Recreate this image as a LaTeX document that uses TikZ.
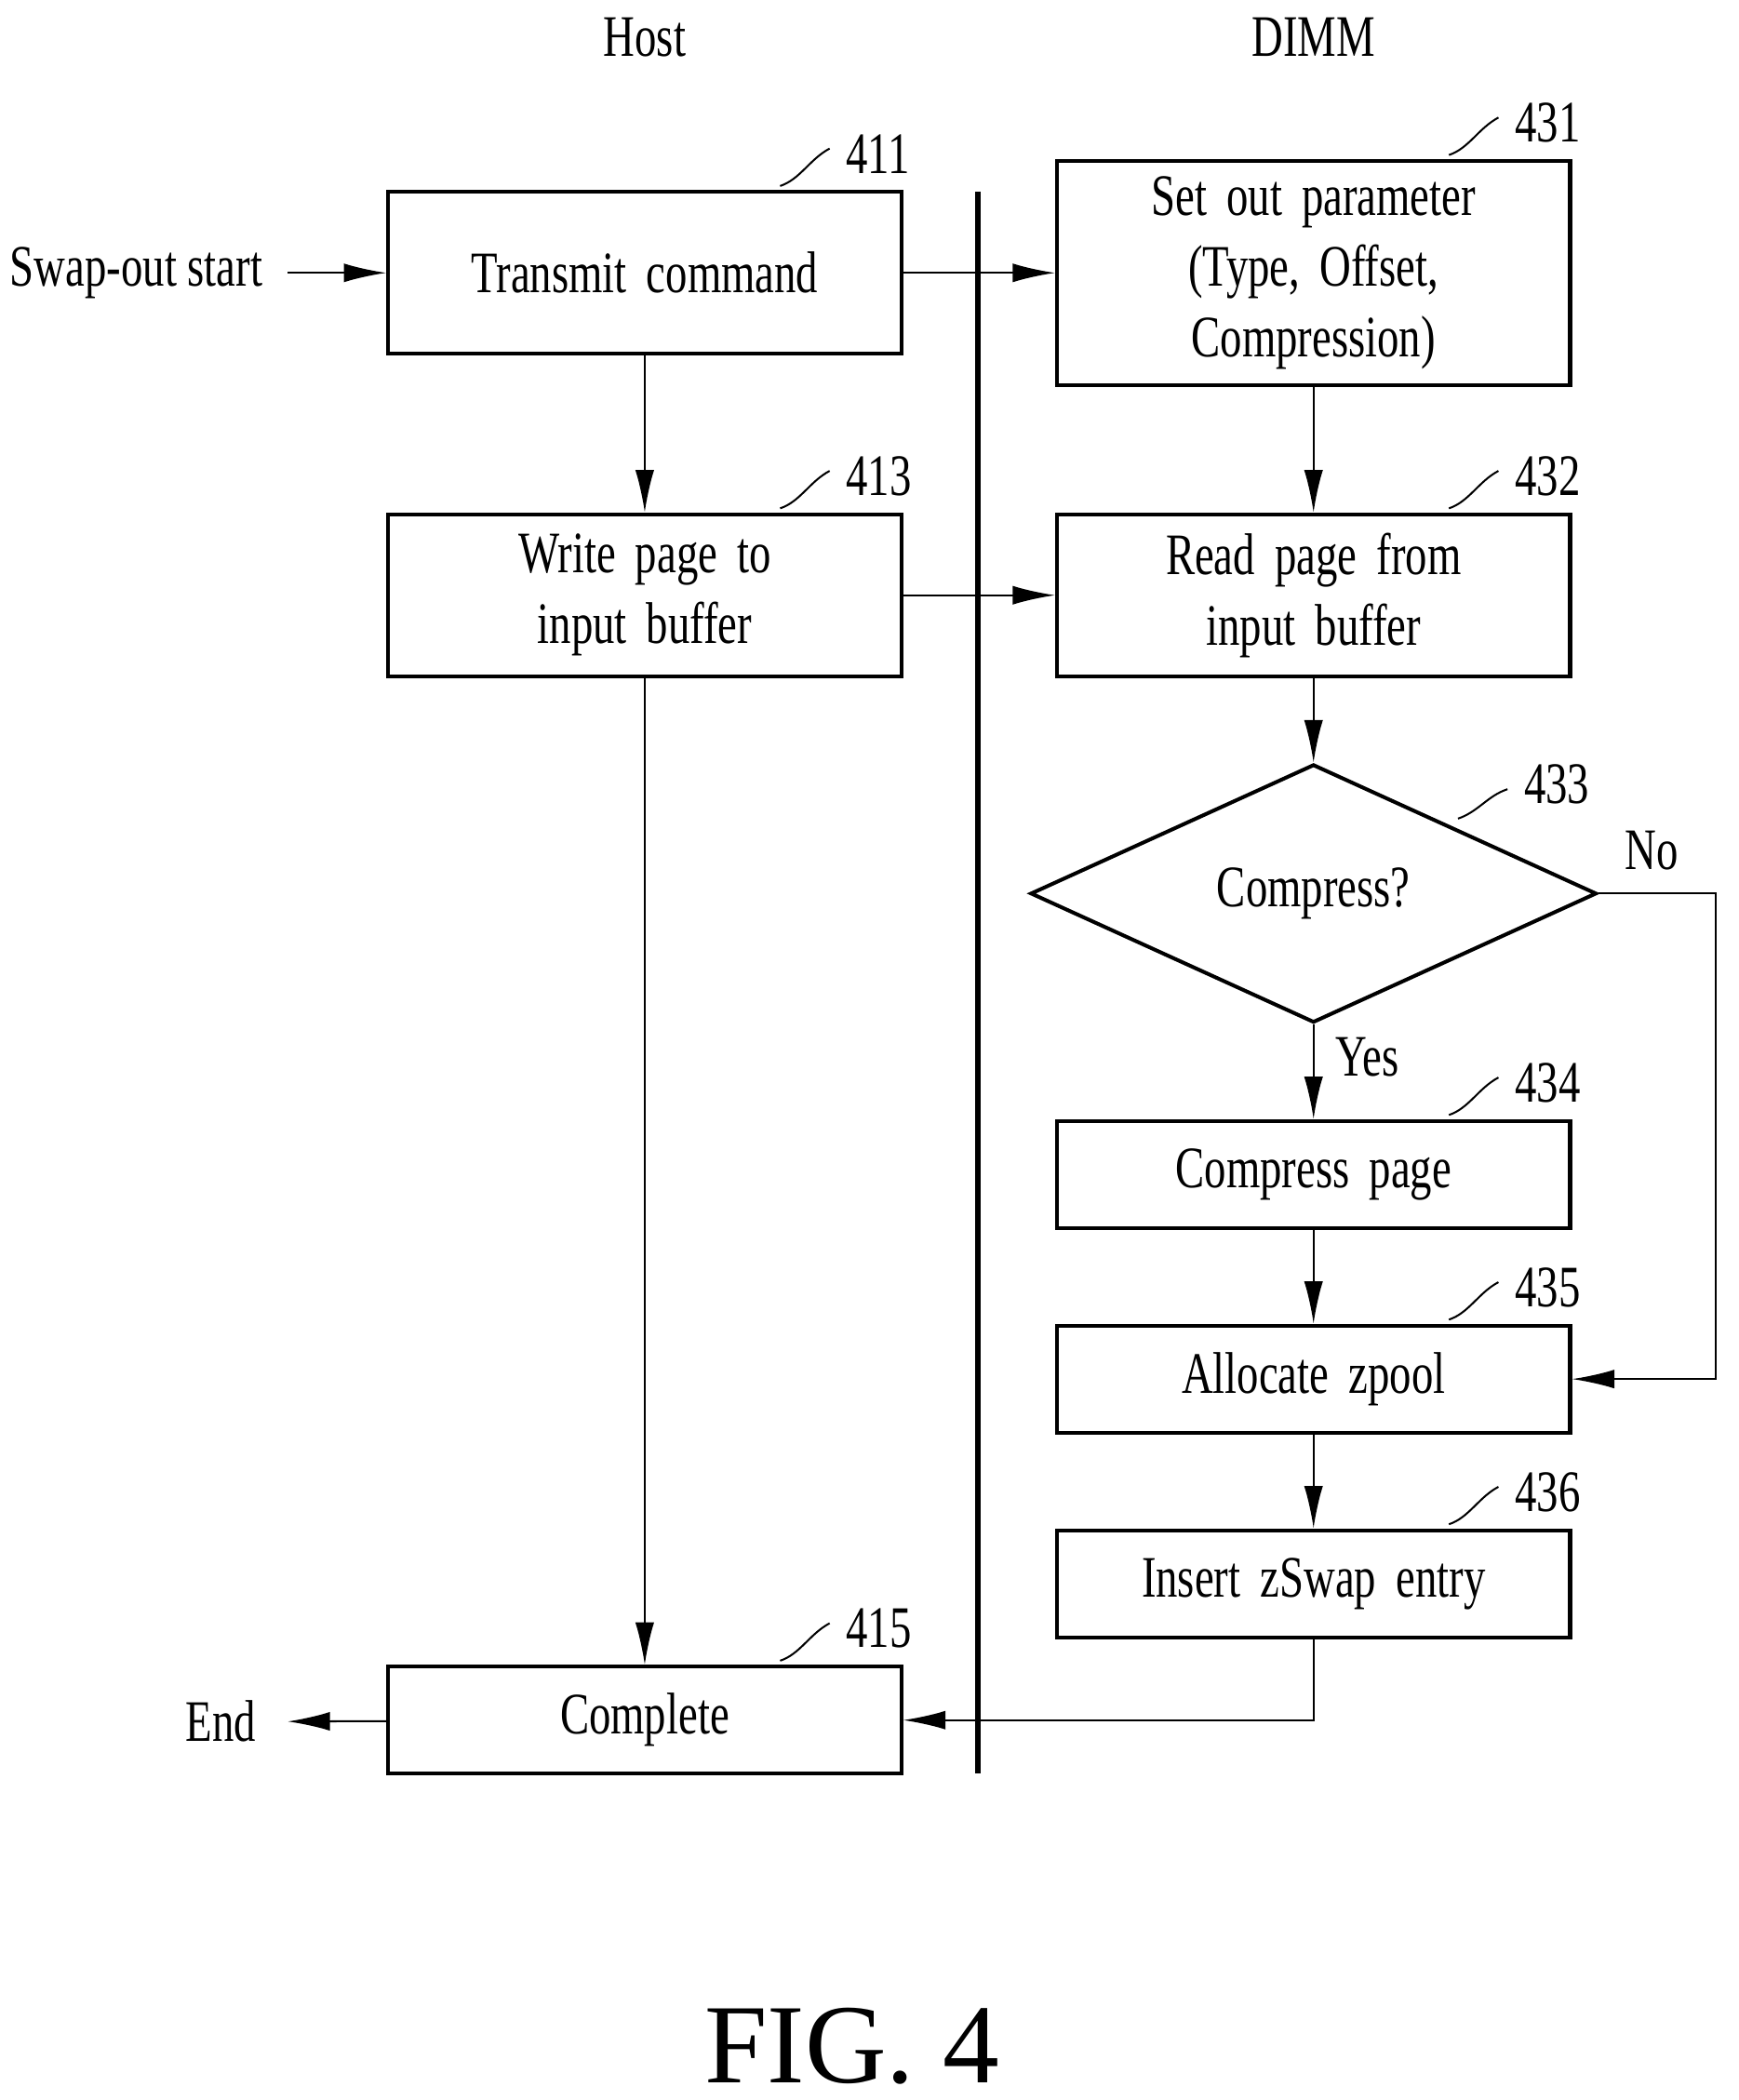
\documentclass[tikz,border=0pt]{standalone}
\usepackage{fontspec}
\setmainfont[FakeStretch=0.74]{Liberation Serif}
\newfontfamily\figfont{Liberation Serif}
\usetikzlibrary{positioning,shapes.geometric,arrows.meta}
\begin{document}
\begin{tikzpicture}[x=0.01cm,y=-0.01cm,
    box/.style = {draw, thick, minimum width=3.77cm, text width=3.6cm, minimum height=1.21cm, align=center, font=\fontsize{12.5}{15}\selectfont},
    sbox/.style = {box, minimum height=0.8cm},
    dec/.style = {draw, thick, diamond, aspect=2.19, minimum width=4.23cm, minimum height=1.93cm, inner sep=0, font=\fontsize{12.5}{15}\selectfont},
    arr/.style = {-{Latex[length=9pt,width=4pt]}},
    txt/.style = {font=\fontsize{12.5}{15}\selectfont},
    num/.style = {font=\fontsize{12.5}{15}\selectfont, anchor=west}
  ]
  \useasboundingbox (0,0) rectangle (1300,1570);
  \node[txt] (host) at (482,28) {Host};
  \node[txt] (dimm) at (982,28) {DIMM};
  \draw[very thick] (731,143) -- (731,1326);
  % host side
  \node[box] (b411) at (482,204) {Transmit command};
  \node[box] (b413) at (482,445) {Write page to\\input buffer};
  \node[sbox] (b415) at (482,1286) {Complete};
  \node[txt] (start) at (102,204) {Swap-out start};
  \node[txt] (end) at (165,1287) {End};
  % dimm side
  \node[box] (b431) at (982,204) {Set out parameter\\(Type, Offset, Compression)};
  \node[box] (b432) at (982,445) {Read page from\\input buffer};
  \node[dec] (d433) at (982,668) {Compress?};
  \node[sbox] (b434) at (982,878) {Compress page};
  \node[sbox] (b435) at (982,1031) {Allocate zpool};
  \node[sbox] (b436) at (982,1184) {Insert zSwap entry};
  \node[txt] (yes) at (1022,790) {Yes};
  \node[txt] (no) at (1235,636) {No};
  \coordinate (c1) at (1283,668);
  % reference numbers
  \foreach \b/\n in {b411/411,b413/413,b415/415,b431/431,b432/432,b434/434,b435/435,b436/436}{
      \draw (\b.north east) ++(-92,-3) coordinate (l\n) .. controls +(15,-5) and +(-15,8) .. ++(37,-28) coordinate (e\n);
      \node[num] at ([yshift=-0.04cm]e\n) {\n};
    }
  \draw (1090,612) .. controls (1105,607) and (1112,595) .. (1127,590);
  \node[num] at (1127,586) {433};
  % connectors
  \coordinate (s0) at (215,204);
  \coordinate (e0) at (215,1287);
  \draw[arr] (s0) -- (b411);
  \draw[arr] (b415) -- (e0);
  \draw[arr] (b411) -- (b431);
  \draw[arr] (b413) -- (b432);
  \draw[arr] (b411) -- (b413);
  \draw[arr] (b413) -- (b415);
  \draw[arr] (b431) -- (b432);
  \draw[arr] (b432) -- (d433);
  \draw[arr] (d433) -- (b434);
  \draw[arr] (b434) -- (b435);
  \draw[arr] (b435) -- (b436);
  \draw[arr] (d433.east) -- (c1) |- (b435);
  \draw[arr] (b436.south) |- (b415);
  \node[font=\figfont\fontsize{24}{28}\selectfont] (fig) at (637,1530) {FIG. 4};
\end{tikzpicture}
\end{document}
